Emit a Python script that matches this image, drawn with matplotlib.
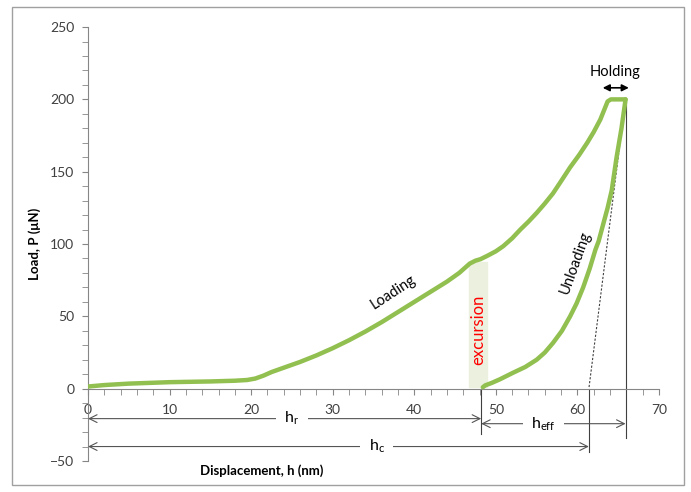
import numpy as np
import matplotlib.pyplot as plt
from matplotlib.patches import Rectangle

plt.rcParams['font.family'] = ['Lato', 'DejaVu Sans']

# loading branch (nm, uN)
load_h = [0, 1, 2, 3.5, 5, 10, 15, 18, 19.5, 20.5, 21.5, 22.5, 24, 26, 28, 30, 32, 34, 36,
          38, 40, 42, 44, 45.5, 46.8, 47.5, 48.1, 49, 50, 50.9, 52, 53, 54, 55, 56, 57, 58,
          59.1, 60.2, 61.2, 62, 62.8, 63.3, 63.7, 64.1, 65.9]
load_p = [1.5, 2, 2.5, 3, 3.5, 4.5, 5, 5.5, 6, 7, 9, 11.5, 14.5, 18.5, 23, 28, 33.5, 39.5, 46,
          53, 60, 67, 74, 80, 86.5, 88.5, 89.5, 92, 95, 98.5, 104, 110, 115.5, 121.5, 128, 135, 143.5,
          153, 161.5, 170, 177.5, 186, 193, 198.6, 200, 200]

# unloading branch
unload_h = [65.9, 65.4, 64.8, 64.2, 63.7, 63.2, 62.6, 62.2, 61.5, 60.7, 59.9, 59.1, 58.1,
            57.0, 56.0, 55.0, 53.6, 52.1, 50.5, 49.5, 48.7, 48.4]
unload_p = [200, 180, 160, 137, 125, 114.6, 102, 96, 83, 70, 59, 50, 40,
            31.6, 25, 20, 15, 11, 6.5, 4, 2.3, 1]

h_r = 48.2
h_c = 61.4
h_max = 65.9

fig = plt.figure(figsize=(6.91, 4.92), dpi=100)
ax = fig.add_axes([0.1274, 0.063, 0.8263, 0.882])

green = '#92c050'
ax.plot(load_h, load_p, color=green, lw=3.2, solid_capstyle='round', solid_joinstyle='round', zorder=3)
ax.plot(unload_h, unload_p, color=green, lw=3.2, solid_capstyle='round', solid_joinstyle='round', zorder=3)

# excursion band
ax.add_patch(Rectangle((46.7, 1.4), 2.2, 86.3, color='#ebf1de', zorder=1))
ax.text(47.9, 41, 'excursion', color='red', rotation=90, ha='center', va='center', fontsize=12)

ax.text(37.4, 67, 'Loading', rotation=33, ha='center', va='center', fontsize=10.5)
ax.text(59.7, 87, 'Unloading', rotation=70, ha='center', va='center', fontsize=10.5)

# holding
ax.annotate('', xy=(63.1, 208), xytext=(66.3, 208),
            arrowprops=dict(arrowstyle='<|-|>', color='black', lw=1.2,
                            mutation_scale=10, shrinkA=0, shrinkB=0))
ax.text(64.6, 219, 'Holding', ha='center', va='center', fontsize=10.5)

# construction lines
ax.plot([h_max, h_c], [200, 0], color='#404040', lw=0.8, ls=(0, (2, 1.5)), zorder=2)
ax.plot([h_c, h_c], [0, -44], color='#404040', lw=0.8)
ax.plot([h_r, h_r], [0, -31], color='#404040', lw=0.8)
ax.plot([h_max, h_max], [200, -34], color='#404040', lw=0.8)

arrow = dict(arrowstyle='<->', color='#555555', lw=0.8, mutation_scale=14,
             shrinkA=0, shrinkB=0)
ax.annotate('', xy=(0, -20.7), xytext=(h_r, -20.7), arrowprops=arrow)
ax.annotate('', xy=(h_r, -24.2), xytext=(h_max, -24.2), arrowprops=arrow)
ax.annotate('', xy=(0, -40), xytext=(h_c, -40), arrowprops=arrow)

box = dict(facecolor='white', edgecolor='none', pad=6)
ax.text(25, -20.7, r'h$_\mathregular{r}$', ha='center', va='center', fontsize=11.5, bbox=box)
ax.text(55.8, -24.2, r'h$_\mathregular{eff}$', ha='center', va='center', fontsize=11.5, bbox=box)
ax.text(35.4, -40, r'h$_\mathregular{c}$', ha='center', va='center', fontsize=11.5, bbox=box)

ax.set_xlim(0, 70)
ax.set_ylim(-50, 250)
for s in ['top', 'right']:
    ax.spines[s].set_visible(False)
ax.spines['bottom'].set_position(('data', 0))
ax.spines['bottom'].set_color('#868686')
ax.spines['left'].set_color('#868686')

ax.set_xticks(np.arange(0, 71, 10))
ax.set_xticks(np.arange(0, 71, 2), minor=True)
ax.set_yticks(np.arange(-50, 251, 50))
ax.set_yticks(np.arange(-50, 251, 10), minor=True)
ax.tick_params(which='both', color='#868686', labelsize=10, labelcolor='#404040')
ax.tick_params(axis='x', which='both', length=4, pad=7)
ax.tick_params(axis='y', which='both', length=4, pad=6)

ax.set_xlabel('Displacement, h (nm)', fontweight='bold', fontsize=9.5)
ax.xaxis.set_label_coords(0.305, -0.008)
ax.set_ylabel('Load, P (μN)', fontweight='bold', fontsize=9.5)
ax.yaxis.set_label_coords(-0.082, 0.5)

fig.patches.append(Rectangle((12 / 691, 7 / 492), 672 / 691, 478 / 492, transform=fig.transFigure,
                             fill=False, edgecolor='#a0a0a0', lw=1))

fig.savefig('out.png', dpi=100)
